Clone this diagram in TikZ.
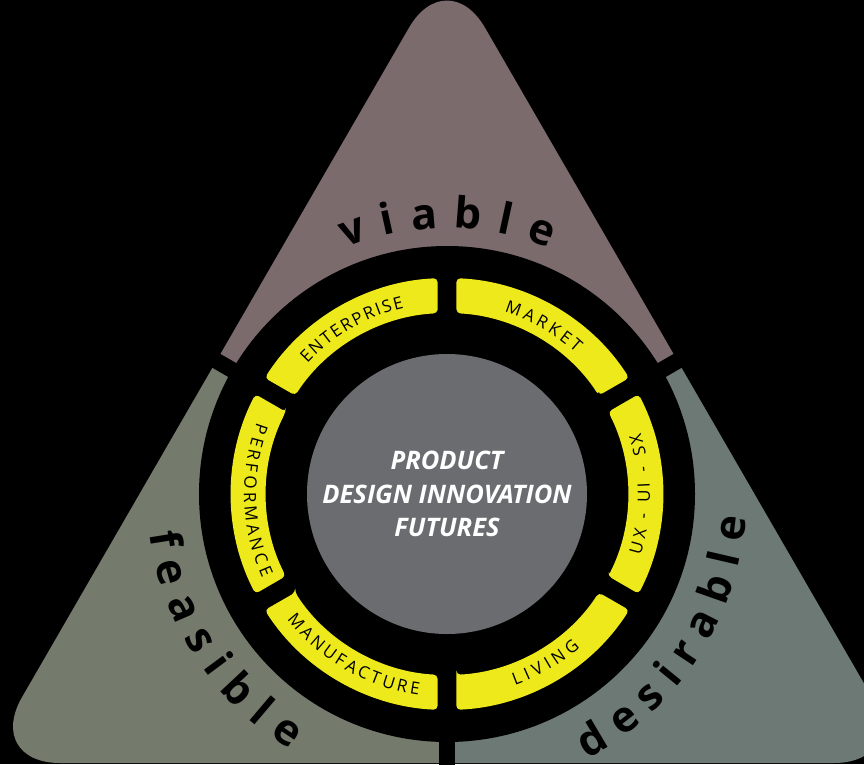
\documentclass[tikz,border=0pt]{standalone}
\usepackage{fontspec}
\setmainfont{Open Sans}
\usetikzlibrary{decorations.text}
\definecolor{viablecol}{RGB}{124,107,108}
\definecolor{feasiblecol}{RGB}{116,122,108}
\definecolor{desirablecol}{RGB}{108,121,116}
\definecolor{ringyellow}{RGB}{237,233,26}
\definecolor{coregray}{RGB}{107,108,112}
\tikzset{divider/.style={black,line width=16pt},segment/.style={fill=ringyellow,rounded corners=4pt},
	ringlabel/.style={decorate,decoration={text along path,text align={fit to path},text={|\fontsize{17}{17}\selectfont|#1}}},
	bigword/.style={decorate,decoration={text along path,text align={fit to path},text={|\fontsize{43}{43}\selectfont\bfseries|#1}}}}

\begin{document}
\begin{tikzpicture}[x=1pt,y=1pt]
	\fill[black] (-447,-270) rectangle (417,494); \useasboundingbox (-447,-270) rectangle (417,494);
	\begin{scope}
		\clip[rounded corners=76pt] (0,532) -- (-463,-269) -- (463,-269) -- cycle;
		\fill[viablecol] (0,0) -- (30:1000) -- (90:1000) -- (150:1000) -- cycle;
		\fill[feasiblecol] (0,0) -- (150:1000) -- (210:1000) -- (270:1000) -- cycle;
		\fill[desirablecol] (0,0) -- (270:1000) -- (330:1000) -- (30:1000) -- cycle;
	\end{scope}
	\foreach \a in {30,150,270} \draw[divider] (\a:240) -- (\a:700);
	\fill[black] (0,0) circle[radius=248];
	\foreach \a in {0,60,...,300} \fill[segment] (\a-27:181) -- (\a-27.5:216) arc[start angle=\a-27.5,end angle=\a+27.5,radius=216] -- (\a+27:181) arc[start angle=\a+27,end angle=\a-27,radius=181] -- cycle;
	\fill[coregray] (0,0) circle[radius=140];
	\path[ringlabel=ENTERPRISE] (137:191) arc[start angle=137,end angle=103,radius=191];
	\path[ringlabel=MARKET] (72.5:191) arc[start angle=72.5,end angle=47.5,radius=191];
	\path[ringlabel=PERFORMANCE] (159.5:203) arc[start angle=159.5,end angle=204.5,radius=203];
	\path[ringlabel=UX - UI - SX] (-17.5:203) arc[start angle=-17.5,end angle=17.5,radius=203];
	\path[ringlabel=MANUFACTURE] (218:203) arc[start angle=218,end angle=262,radius=203];
	\path[ringlabel=LIVING] (289.5:203) arc[start angle=289.5,end angle=311,radius=203];
	\node[text=white,align=center,font=\fontsize{25.5}{33.5}\selectfont\bfseries\itshape] (core) at (0,0) {PRODUCT\\DESIGN INNOVATION\\FUTURES};
	\path[bigword=viable] (112.5:266) arc[start angle=112.5,end angle=67.5,radius=266];
	\path[bigword=feasible] (187.5:300) arc[start angle=187.5,end angle=238.5,radius=300];
	\path[bigword=desirable] (-62:300) arc[start angle=-62,end angle=-4.5,radius=300];
\end{tikzpicture}
\end{document}
